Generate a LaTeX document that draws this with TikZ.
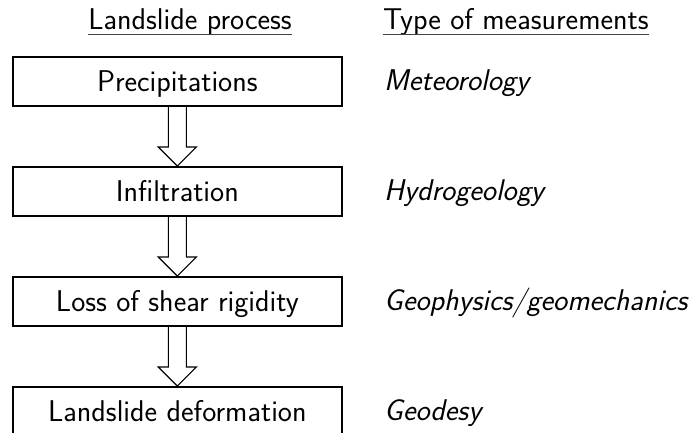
\documentclass[tikz,border=0pt]{standalone}
\usepackage{fontspec}
\usetikzlibrary{calc}
\begin{document}
\begin{tikzpicture}[x=1pt,y=-1pt,
  font=\fontsize{30}{36}\selectfont\sffamily,
  procbox/.style={draw, line width=1.7pt, minimum width=329pt, minimum height=49pt,
    inner sep=0pt, text height=20.8pt, text depth=0pt, anchor=north west},
  meas/.style={anchor=west, inner sep=0pt, text height=20.8pt, text depth=0pt,
    font=\fontsize{30}{36}\selectfont\sffamily\itshape},
  head/.style={anchor=base, inner sep=0pt},
  headline/.style={line width=0.9pt, black!75},
  blockarrow/.style={draw, line width=1.2pt, line join=miter}]
\useasboundingbox (0,0) rectangle (690,432);
% headings
\node[head] (h1) at (190,29.5) {Landslide process};
\node[head, anchor=base west] (h2) at (383,29.5) {Type of measurements};
\draw[headline] ($(h1.base west)+(0,5)$) -- ($(h1.base east)+(0,5)$);
\draw[headline] ($(h2.base west)+(0,5)$) -- ($(h2.base east)+(0,5)$);
% process boxes
\node[procbox] (b1) at (12,56) {Precipitations};
\node[procbox] (b2) at (12,166) {Infiltration};
\node[procbox] (b3) at (12,276) {Loss of shear rigidity};
\node[procbox] (b4) at (12,386) {Landslide deformation};
% measurements
\node[meas] (m1) at (384,80.5) {Meteorology};
\node[meas] (m2) at (384,190.5) {Hydrogeology};
\node[meas] (m3) at (384,300.5) {Geophysics/geomechanics};
\node[meas] (m4) at (384,410.5) {Geodesy};
% block arrows
\foreach \a/\b in {b1/b2, b2/b3, b3/b4}{
  \draw[blockarrow] ($(\a.south)+(-9,0)$) -- ($(\b.north)+(-9,-19)$)
    -- ($(\b.north)+(-19,-19)$) -- (\b.north) -- ($(\b.north)+(19,-19)$)
    -- ($(\b.north)+(9,-19)$) -- ($(\a.south)+(9,0)$);
}
\end{tikzpicture}
\end{document}
